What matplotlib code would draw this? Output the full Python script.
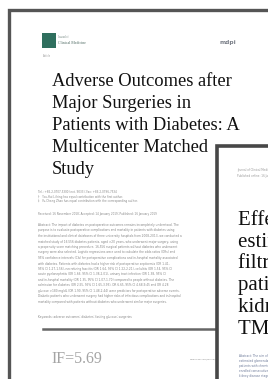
import matplotlib.pyplot as plt
from matplotlib.patches import Rectangle

# text content of the two stacked paper cards
title_lines = ["Adverse Outcomes after", "Major Surgeries in",
               "Patients with Diabetes: A", "Multicenter Matched", "Study"]
card2_lines = ["Effect of", "estimated glomerular", "filtration rate on",
               "patients with chronic", "kidney disease and", "TMAO levels"]
impact_factor = 5.69
journal_name = ["Journal of", "Clinical Medicine"]
affil_lines = [
    "Tel.: +86-2-0707-5300 (ext. 9033); Fax: +86-2-0796-7534",
    "\u2020   You-Hui Li hing has equal contribution with the first author.",
    "\u2021   Yu-Cheng Zhao has equal contribution with the corresponding author.",
]
received = "Received: 16 November 2018; Accepted: 14 January 2019; Published: 16 January 2019"
abstract_lines = [
    "Abstract: The impact of diabetes on postoperative outcomes remains incompletely understood. The",
    "purpose is to evaluate postoperative complications and mortality in patients with diabetes using",
    "the institutional and clinical databases of three university hospitals from 2008-2013, we conducted a",
    "matched study of 16,556 diabetes patients, aged >20 years, who underwent major surgery, using",
    "a propensity score matching procedure. 16,556 surgical patients without diabetes who underwent",
    "surgery were also selected. Logistic regressions were used to calculate the odds ratios (ORs) and",
    "95% confidence intervals (CIs) for postoperative complications and in-hospital mortality associated",
    "with diabetes. Patients with diabetes had a higher risk of postoperative septicemia (OR 1.41,",
    "95% CI 1.27-1.56), necrotizing fasciitis (OR 1.64, 95% CI 1.22-2.21), cellulitis (OR 1.54, 95% CI",
    "acute pyelonephritis (OR 1.66, 95% CI 1.38-2.01), urinary tract infection (OR 1.38, 95% CI",
    "and in-hospital mortality (OR 1.35, 95% CI 1.07-1.70) compared to people without diabetes. The",
    "admission for diabetes (OR 2.55, 95% CI 1.65-3.93), OR 6.65, 95% CI 4.68-9.45 and OR 4.28",
    "glucose >180 mg/dL (OR 1.90, 95% CI 1.48-2.44) were predictors for postoperative adverse events.",
    "Diabetic patients who underwent surgery had higher risks of infectious complications and in-hospital",
    "mortality compared with patients without diabetes who underwent similar major surgeries.",
]
keywords = "Keywords: adverse outcomes; diabetes; fasting glucose; surgeries"
card2_header = ["Journal of Clinical Medicine 2019, 8, 100",
                "Published online: 16 January 2019"]
card2_abstract = ["Abstract: The aim of this study was",
                  "estimated glomerular filtration rate",
                  "patients with chronic kidney disease",
                  "enrolled consecutively from the",
                  "kidney disease stage 3 to 5 were"]

fig = plt.figure(figsize=(2.68, 3.79), dpi=100)
ax = fig.add_axes([0, 0, 1, 1])
ax.set_xlim(0, 268)
ax.set_ylim(379, 0)
ax.axis("off")

serif = ["Liberation Serif", "DejaVu Serif"]

# card 1
ax.add_patch(Rectangle((8.5, 10), 300, 400, facecolor="white",
                       edgecolor="#555555", linewidth=2.4, zorder=1))

ax.add_patch(Rectangle((42, 33), 14, 15, facecolor="#2f6f5e", zorder=2))
ax.text(58, 38.5, journal_name[0], fontsize=1.8, color="#6a7f78", family=serif, zorder=2)
ax.text(58, 43.5, journal_name[1], fontsize=2.8, color="#4d6a62", family=serif, zorder=2)
ax.text(43, 57, "Article", fontsize=1.8, color="#999999", zorder=2)
ax.text(219, 44, "mdpi", fontsize=4.2, color="#7a7f88", weight="bold", zorder=2)

for i, line in enumerate(title_lines):
    ax.text(52, 85.7 + i * 22.2, line, fontsize=13.3, family=serif,
            color="#111111", zorder=2)

for i, line in enumerate(affil_lines):
    ax.text(38, 193 + i * 4.6, line, fontsize=2.0, color="#8a8a8a", zorder=2)
ax.text(38, 215, received, fontsize=2.0, color="#8a8a8a", zorder=2)
for i, line in enumerate(abstract_lines):
    ax.text(38, 226 + i * 5.5, line, fontsize=2.1, color="#858585", zorder=2)
ax.text(38, 318, keywords, fontsize=2.1, color="#858585", zorder=2)

ax.plot([43, 230], [328.5, 328.5], color="#666666", linewidth=1.8, zorder=2)
ax.text(51, 363, "IF=%.2f" % impact_factor, fontsize=11.5, family=serif,
        color="#a5a5a5", zorder=2)
ax.text(190, 360, "www.mdpi.com/journal/jcm", fontsize=1.6, color="#8a8a8a", zorder=2)

# card 2 on top
ax.add_patch(Rectangle((216.5, 145.5), 200, 300, facecolor="white",
                       edgecolor="#474747", linewidth=2.6, zorder=3))
for i, line in enumerate(card2_header):
    ax.text(237, 171 + i * 6, line, fontsize=2.0, color="#9a9a9a", zorder=4)
for i, line in enumerate(card2_lines):
    ax.text(238.5, 225 + i * 21.7, line, fontsize=15, family=serif,
            color="#111111", zorder=4)
for i, line in enumerate(card2_abstract):
    ax.text(239, 357 + i * 5, line, fontsize=2.1, color="#6d7a99", zorder=4)

fig.savefig("out.png", dpi=100)
